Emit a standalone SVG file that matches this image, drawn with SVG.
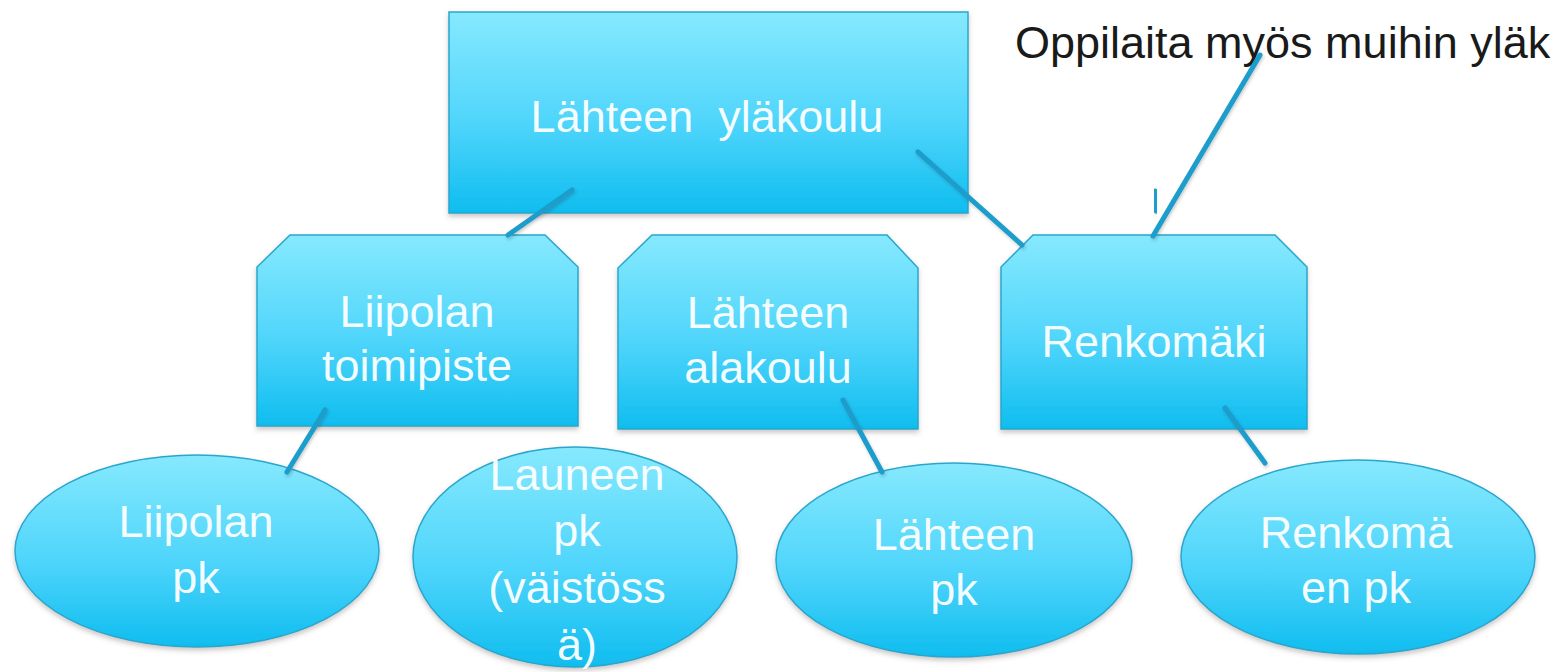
<svg xmlns="http://www.w3.org/2000/svg" width="1562" height="672" viewBox="0 0 1562 672">
<defs>
<linearGradient id="g" x1="0" y1="0" x2="0" y2="1">
<stop offset="0" stop-color="#86e9fe"/>
<stop offset="0.55" stop-color="#4fd5fb"/>
<stop offset="1" stop-color="#0fbdef"/>
</linearGradient>
<filter id="sh" x="-10%" y="-10%" width="120%" height="130%">
<feDropShadow dx="0" dy="3" stdDeviation="2.5" flood-color="#5a4a40" flood-opacity="0.3"/>
</filter>
<filter id="lsh" x="-20%" y="-20%" width="140%" height="140%">
<feDropShadow dx="1" dy="2" stdDeviation="1.5" flood-color="#333" flood-opacity="0.25"/>
</filter>
</defs>
<style>
.shape{fill:url(#g);stroke:#2aa6cc;stroke-width:1.5;filter:url(#sh)}
.lbl{font-family:"Liberation Sans",Arial,sans-serif;font-size:45px;fill:#ffffff;fill-opacity:0.95;text-anchor:middle}
.note{font-family:"Liberation Sans",Arial,sans-serif;font-size:45px;fill:#1a1a1a}
.con{stroke:#1a9dcb;stroke-width:5;stroke-linecap:round;fill:none;filter:url(#lsh)}
</style>
<rect width="1562" height="672" fill="#ffffff"/>

<g id="node-top">
<rect class="shape" x="449" y="12" width="519" height="201"/>
<text class="lbl" x="707" y="132" xml:space="preserve">Lähteen  yläkoulu</text>
</g>

<g id="node-liipolan-toimipiste">
<path class="shape" d="M290,235 L545,235 L578,267 L578,426 L257,426 L257,267 Z"/>
<text class="lbl" x="417" y="327">Liipolan</text>
<text class="lbl" x="417" y="381">toimipiste</text>
</g>

<g id="node-lahteen-alakoulu">
<path class="shape" d="M652,235 L887,235 L918,268 L918,429 L618,429 L618,268 Z"/>
<text class="lbl" x="768" y="328">Lähteen</text>
<text class="lbl" x="768" y="383">alakoulu</text>
</g>

<g id="node-renkomaki">
<path class="shape" d="M1033,235 L1275,235 L1307,267 L1307,429 L1001,429 L1001,267 Z"/>
<text class="lbl" x="1154" y="357">Renkomäki</text>
</g>

<g id="node-liipolan-pk">
<ellipse class="shape" cx="197" cy="551" rx="182" ry="96"/>
<text class="lbl" x="196" y="537">Liipolan</text>
<text class="lbl" x="196" y="593">pk</text>
</g>

<g id="node-launeen-pk">
<ellipse class="shape" cx="575" cy="557" rx="162" ry="110"/>
<text class="lbl" x="577" y="490">Launeen</text>
<text class="lbl" x="577" y="546">pk</text>
<text class="lbl" x="577" y="603">(väistöss</text>
<text class="lbl" x="577" y="660">ä)</text>
</g>

<g id="node-lahteen-pk">
<ellipse class="shape" cx="954" cy="560" rx="178" ry="97"/>
<text class="lbl" x="954" y="550">Lähteen</text>
<text class="lbl" x="954" y="605">pk</text>
</g>

<g id="node-renkomaen-pk">
<ellipse class="shape" cx="1358" cy="557" rx="177" ry="97"/>
<text class="lbl" x="1356" y="548">Renkomä</text>
<text class="lbl" x="1356" y="603">en pk</text>
</g>

<g id="node-note">
<text class="note" x="1015" y="58">Oppilaita myös muihin yläk</text>
</g>

<g id="connectors">
<line class="con" x1="572" y1="190" x2="508" y2="235"/>
<line class="con" x1="778" y1="212" x2="778" y2="269"/>
<line class="con" x1="918" y1="152" x2="1022" y2="245"/>
<line class="con" x1="1260" y1="55" x2="1153" y2="236"/>
<line class="con" x1="1155" y1="191" x2="1156" y2="211"/>
<line class="con" x1="325" y1="410" x2="287" y2="472"/>
<line class="con" x1="843" y1="400" x2="882" y2="472"/>
<line class="con" x1="1225" y1="408" x2="1265" y2="463"/>
</g>
</svg>
